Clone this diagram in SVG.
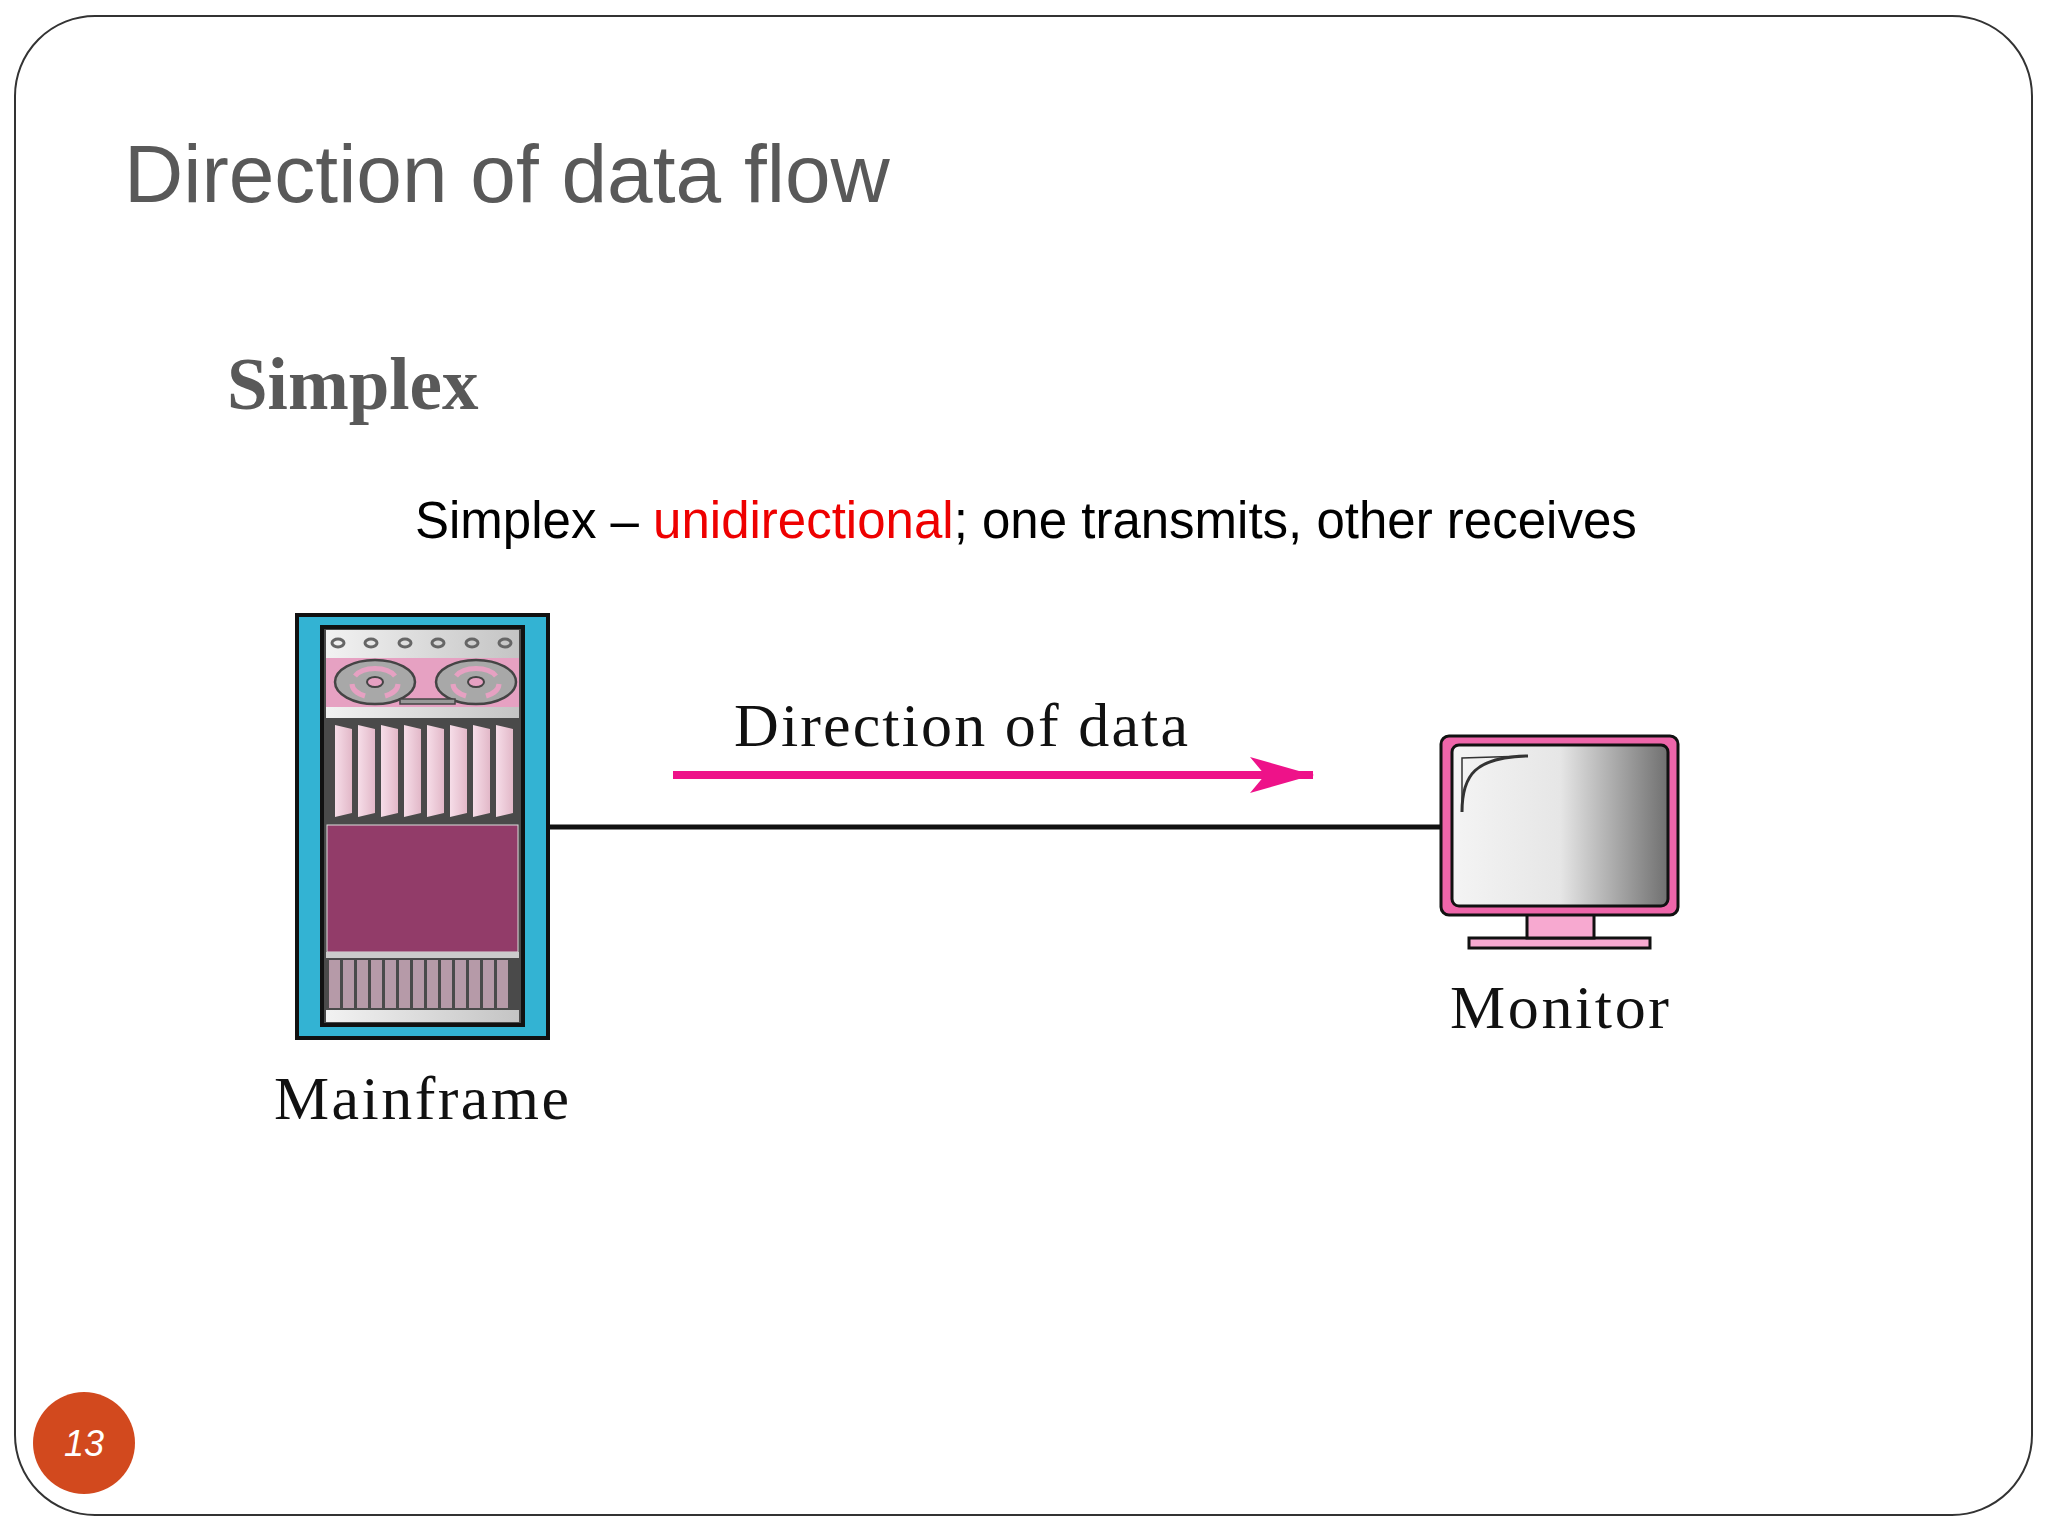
<svg xmlns="http://www.w3.org/2000/svg" width="2048" height="1536" viewBox="0 0 2048 1536">
<defs>
<linearGradient id="scr" x1="0" x2="1" y1="0" y2="0"><stop offset="0" stop-color="#f4f4f4"/><stop offset="0.5" stop-color="#e6e6e6"/><stop offset="1" stop-color="#707070"/></linearGradient>
<linearGradient id="fin" x1="0" x2="1"><stop offset="0" stop-color="#f6dde8"/><stop offset="1" stop-color="#e2b8c8"/></linearGradient>
<linearGradient id="gr" x1="0" x2="1"><stop offset="0" stop-color="#f2f2f2"/><stop offset="1" stop-color="#c4c4c4"/></linearGradient>
<marker id="ah" markerWidth="10" markerHeight="8" refX="9" refY="4" orient="auto" markerUnits="userSpaceOnUse" viewBox="0 0 10 8"><path d="M0,0 L10,4 L0,8 L3,4 Z" fill="#ee1289"/></marker>
</defs>
<style>
.serif{font-family:"Liberation Serif","DejaVu Serif",serif;fill:#111}
.sans{font-family:"Liberation Sans",Arial,sans-serif}
</style>
<rect width="2048" height="1536" fill="#fff"/>
<rect x="15" y="16" width="2017" height="1499" rx="80" fill="none" stroke="#333" stroke-width="2"/>
<text x="124" y="202" class="sans" font-size="82" fill="#595959">Direction of data flow</text>
<text x="227" y="409" font-family="Liberation Serif,serif" font-weight="bold" font-size="73" fill="#595959">Simplex</text>
<text x="415" y="538" class="sans" font-size="51" fill="#000">Simplex – <tspan fill="#ee0000">unidirectional</tspan>; one transmits, other receives</text>

<g id="connectors">
<line x1="548" y1="827" x2="1440" y2="827" stroke="#111" stroke-width="5"/>
<line x1="673" y1="775" x2="1313" y2="775" stroke="#ee1289" stroke-width="8" marker-end="url(#ah)"/>
<path d="M1250,757 L1313,775 L1250,793 L1265,775 Z" fill="#ee1289"/>
<text x="734" y="746" class="serif" font-size="62" textLength="454" lengthAdjust="spacing">Direction of data</text>
</g>

<g id="mainframe">
<rect x="297" y="615" width="251" height="423" fill="#33b3d3" stroke="#111" stroke-width="4"/>
<rect x="322" y="627" width="201" height="398" fill="#4a4a4a" stroke="#111" stroke-width="4"/>
<rect x="326" y="630" width="193" height="28" fill="url(#gr)"/>
<g fill="none" stroke="#666" stroke-width="3">
<ellipse cx="338" cy="643" rx="6" ry="4"/><ellipse cx="371" cy="643" rx="6" ry="4"/><ellipse cx="405" cy="643" rx="6" ry="4"/><ellipse cx="438" cy="643" rx="6" ry="4"/><ellipse cx="472" cy="643" rx="6" ry="4"/><ellipse cx="505" cy="643" rx="6" ry="4"/>
</g>
<rect x="326" y="658" width="193" height="49" fill="#e6a1c2"/>
<g stroke="#444" stroke-width="2.5" fill="#a8a8a8">
<ellipse cx="375" cy="682" rx="40" ry="22"/><ellipse cx="476" cy="682" rx="40" ry="22"/>
</g>
<g fill="none" stroke="#e6a1c2" stroke-width="5">
<path d="M355,676 A22,13 0 0 1 395,676"/><path d="M456,676 A22,13 0 0 1 496,676"/>
<path d="M352,684 A24,14 0 0 0 365,696"/><path d="M398,684 A24,14 0 0 1 385,696"/>
<path d="M453,684 A24,14 0 0 0 466,696"/><path d="M499,684 A24,14 0 0 1 486,696"/>
</g>
<g fill="#e6a1c2" stroke="#444" stroke-width="2"><ellipse cx="375" cy="682" rx="8" ry="5"/><ellipse cx="476" cy="682" rx="8" ry="5"/></g>
<rect x="400" y="699" width="55" height="5" fill="#999" stroke="#444" stroke-width="1.5"/>
<rect x="326" y="707" width="193" height="11" fill="url(#gr)"/>
<g fill="url(#fin)">
<path d="M335,725 L352,729 L352,813 L335,817 Z"/><path d="M358,725 L375,729 L375,813 L358,817 Z"/><path d="M381,725 L398,729 L398,813 L381,817 Z"/><path d="M404,725 L421,729 L421,813 L404,817 Z"/><path d="M427,725 L444,729 L444,813 L427,817 Z"/><path d="M450,725 L467,729 L467,813 L450,817 Z"/><path d="M473,725 L490,729 L490,813 L473,817 Z"/><path d="M496,725 L513,729 L513,813 L496,817 Z"/>
</g>
<rect x="327" y="825" width="191" height="127" fill="#923c69" stroke="#ddd" stroke-width="1"/>
<rect x="326" y="952" width="193" height="6" fill="#ccc"/>
<g fill="#b69aa8">
<rect x="329" y="960" width="11" height="48"/><rect x="343" y="960" width="11" height="48"/><rect x="357" y="960" width="11" height="48"/><rect x="371" y="960" width="11" height="48"/><rect x="385" y="960" width="11" height="48"/><rect x="399" y="960" width="11" height="48"/><rect x="413" y="960" width="11" height="48"/><rect x="427" y="960" width="11" height="48"/><rect x="441" y="960" width="11" height="48"/><rect x="455" y="960" width="11" height="48"/><rect x="469" y="960" width="11" height="48"/><rect x="483" y="960" width="11" height="48"/><rect x="497" y="960" width="11" height="48"/>
</g>
<rect x="326" y="1010" width="193" height="12" fill="url(#gr)"/>
<text x="274" y="1119" class="serif" font-size="62" textLength="295" lengthAdjust="spacing">Mainframe</text>
</g>

<g id="monitor">
<rect x="1469" y="938" width="181" height="10" fill="#f7a9d0" stroke="#111" stroke-width="3"/>
<rect x="1527" y="913" width="67" height="25" fill="#f7a9d0" stroke="#111" stroke-width="3"/>
<rect x="1441" y="736" width="237" height="179" rx="8" fill="#ee66aa" stroke="#111" stroke-width="3"/>
<rect x="1452" y="745" width="216" height="161" rx="7" fill="url(#scr)" stroke="#111" stroke-width="3"/>
<path d="M1462,812 C1462,775 1475,757 1528,756" fill="none" stroke="#333" stroke-width="3"/>
<path d="M1462,812 L1462,758 L1528,756" fill="none" stroke="#333" stroke-width="1.5"/>
<text x="1450" y="1028" class="serif" font-size="62" textLength="219" lengthAdjust="spacing">Monitor</text>
</g>

<circle cx="84" cy="1443" r="51" fill="#d2491e"/>
<text x="84" y="1456" class="sans" font-size="36" font-style="italic" fill="#fff" text-anchor="middle">13</text>
</svg>
